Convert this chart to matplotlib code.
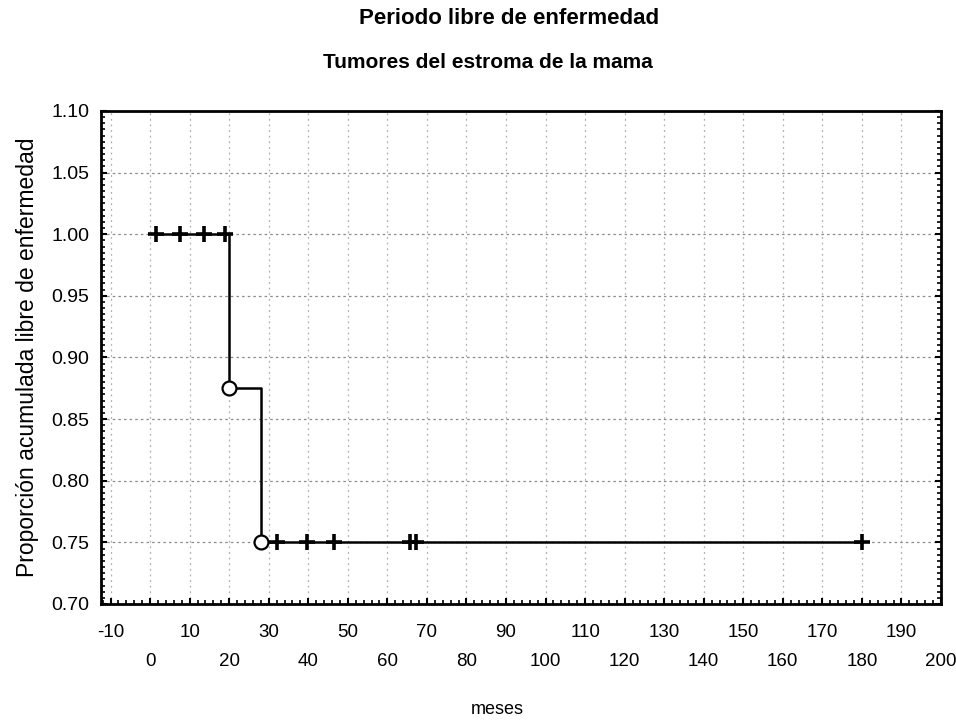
import matplotlib
matplotlib.use('Agg')
from matplotlib import pyplot as plt
from matplotlib.ticker import MultipleLocator

# Kaplan-Meier curve
step_t = [1.6, 20, 28, 180]
step_s = [1.0, 0.875, 0.75, 0.75]

event_t = [20, 28]
event_s = [0.875, 0.75]

cens_t = [1.6, 7.5, 13.7, 18.9, 32, 39.6, 46.5, 65.6, 67.3, 180]
cens_s = [1.0, 1.0, 1.0, 1.0, 0.75, 0.75, 0.75, 0.75, 0.75, 0.75]

top_ticks = [-10, 10, 30, 50, 70, 90, 110, 130, 150, 170, 190]
bottom_ticks = [0, 20, 40, 60, 80, 100, 120, 140, 160, 180, 200]
y_ticks = [0.70, 0.75, 0.80, 0.85, 0.90, 0.95, 1.00, 1.05, 1.10]

font = ['Liberation Sans', 'DejaVu Sans']

fig = plt.figure(figsize=(9.56, 7.23), dpi=100)
ax = fig.add_axes([0.1053, 0.1646, 0.879, 0.682])

ax.step(step_t, step_s, where='post', color='black', lw=1.8, zorder=3)
ax.plot(cens_t, cens_s, ls='none', marker='+', ms=12, mew=2.6,
        color='black', zorder=4)
ax.plot(event_t, event_s, ls='none', marker='o', ms=10, mew=1.6,
        mfc='white', mec='black', zorder=5)

ax.set_xlim(-12.5, 200)
ax.set_ylim(0.70, 1.10)

ax.xaxis.set_minor_locator(MultipleLocator(2))
ax.yaxis.set_minor_locator(MultipleLocator(0.005))
ax.grid(True, axis='x', which='major', ls=(0, (1.5, 3)), color='#b0b0b0', lw=0.9)
ax.grid(True, axis='y', which='major', ls=(0, (2, 2.5)), color='#8a8a8a', lw=0.9)

all_x = list(range(-10, 201, 10))
ax.set_xticks(all_x)
ax.set_xticklabels([str(v) if v in top_ticks else '' for v in all_x],
                   family=font, fontsize=13.5)
ax.set_yticks(y_ticks)
ax.set_yticklabels([f'{v:.2f}' for v in y_ticks], family=font, fontsize=14)

ax.tick_params(axis='x', which='major', pad=14.5)
ax.tick_params(axis='y', which='major', pad=8)
ax.tick_params(which='major', direction='in', length=4, width=1.5,
               top=True, right=True)
ax.tick_params(which='minor', direction='in', length=3, width=1.2,
               top=False, right=True)
for s in ax.spines.values():
    s.set_linewidth(2)

# second row of x labels
ax2 = ax.twiny()
ax2.set_xlim(ax.get_xlim())
ax2.xaxis.set_ticks_position('bottom')
ax2.set_xticks(bottom_ticks)
ax2.set_xticklabels([str(v) for v in bottom_ticks], family=font, fontsize=13.5)
ax2.tick_params(axis='x', length=0, pad=35)
for s in ax2.spines.values():
    s.set_visible(False)

fig.text(0.52, 0.019, 'meses', ha='center', va='center',
         family=font, fontsize=13)
ax.set_ylabel('Proporción acumulada libre de enfermedad', family=font,
              fontsize=16.5, labelpad=9)

fig.text(0.533, 0.975, 'Periodo libre de enfermedad', ha='center', va='center',
         family=font, fontsize=16, fontweight='bold')
fig.text(0.51, 0.914, 'Tumores del estroma de la mama', ha='center', va='center',
         family=font, fontsize=15, fontweight='bold')

fig.savefig('out.png', dpi=100)
